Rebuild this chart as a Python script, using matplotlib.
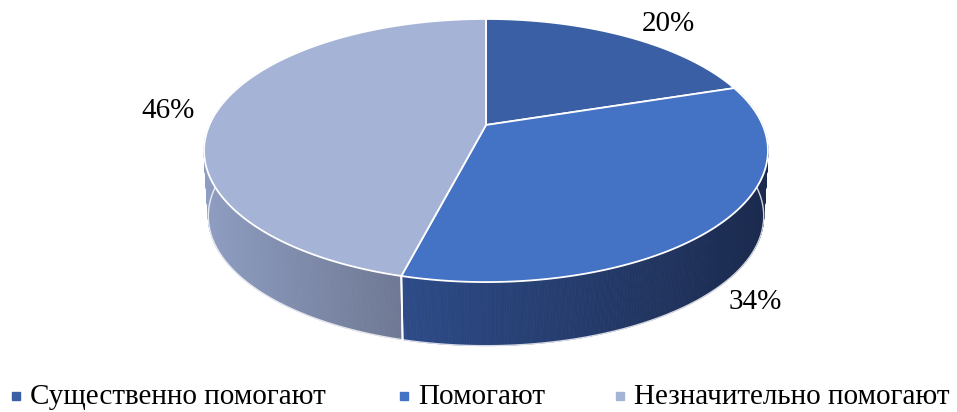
import matplotlib.pyplot as plt
import matplotlib.colors as mcolors
import numpy as np
from matplotlib.patches import Polygon

# Données
categories = ['Существенно помогают', 'Помогают', 'Незначительно помогают']
parts = [20, 34, 46]

couleurs_dessus = ['#3A5FA5', '#4472C4', '#A5B3D7']
couleurs_cote = [('#2A4580', '#1B2A4E'), ('#2D4B88', '#1B2A4E'), ('#8E9DC1', '#6E7893')]

# Géométrie (pixels de la figure)
cx, cy = 486, 125
A, B, k = 276.6, 126.6, 0.194
retrait, epaisseur = 0.985, 66


def projeter(theta, bas=False):
    t = np.radians(theta)
    u, v = np.sin(t), np.cos(t)
    s = 1 + k * v
    if bas:
        return cx + retrait * A * u / s, cy + epaisseur - retrait * B * v / s
    return cx + A * u / s, cy - B * v / s


fig = plt.figure(figsize=(9.57, 4.12), dpi=100)
ax = fig.add_axes([0, 0, 1, 1])
ax.set_xlim(0, 957)
ax.set_ylim(412, 0)
ax.axis('off')

angles = np.concatenate([[0], np.cumsum(parts) / sum(parts) * 360])

# Côtés : bandes fines colorées selon un dégradé horizontal
for i in range(len(parts)):
    a1, a2 = max(angles[i], 60), min(angles[i + 1], 300)
    if a2 <= a1:
        continue
    th = np.linspace(a1, a2, 400)
    avant = (th >= 90) & (th <= 270)
    if not avant.any():
        continue
    xh, yh = projeter(th)
    xb, yb = projeter(th, bas=True)
    xv = np.concatenate([xh[avant], xb[avant]])
    x0, x1 = xv.min(), xv.max()
    c1 = np.array(mcolors.to_rgb(couleurs_cote[i][0]))
    c2 = np.array(mcolors.to_rgb(couleurs_cote[i][1]))
    for j in range(len(th) - 1):
        xm = (xh[j] + xh[j + 1]) / 2
        f = np.clip((xm - x0) / (x1 - x0), 0, 1)
        c = c1 * (1 - f) + c2 * f
        quad = [(xh[j], yh[j]), (xh[j + 1], yh[j + 1]), (xb[j + 1], yb[j + 1]), (xb[j], yb[j])]
        ax.add_patch(Polygon(quad, closed=True, facecolor=c, edgecolor=c, lw=0.6, zorder=2))
    # contour blanc du bas et arêtes verticales
    ax.plot(xb, yb, color='white', lw=1.0, alpha=0.8, zorder=2.5)
    for a in (angles[i], angles[i + 1]):
        if 90 < a < 270:
            xt, yt = projeter(a)
            xbb, ybb = projeter(a, bas=True)
            ax.plot([xt, xbb], [yt, ybb], color='white', lw=1.3, zorder=2.5)

# Dessus
for i in range(len(parts)):
    th = np.linspace(angles[i], angles[i + 1], 200)
    xh, yh = projeter(th)
    pts = np.column_stack([np.concatenate([[cx], xh]), np.concatenate([[cy], yh])])
    ax.add_patch(Polygon(pts, closed=True, facecolor=couleurs_dessus[i],
                         edgecolor='white', lw=1.3, zorder=3))

ax.set_xlim(0, 957)
ax.set_ylim(412, 0)

# Étiquettes
decalages = [(42, -12), (37, 77), (-50, 1)]
for i in range(len(parts)):
    mid = (angles[i] + angles[i + 1]) / 2
    x, y = projeter(mid)
    ax.text(x + decalages[i][0], y + decalages[i][1], f'{parts[i]}%',
            ha='center', va='center', fontsize=21, family='Liberation Serif', zorder=4)

# Légende (placée à la main comme dans Excel)
leg_x = [16, 404, 620]
for i in range(len(categories)):
    ax.plot(leg_x[i], 396, marker='s', markersize=6, color=couleurs_dessus[i], ls='none')
    ax.text(leg_x[i] + 14, 404, categories[i], ha='left', va='baseline',
            fontsize=21, family='Liberation Serif')

plt.savefig('out.png', dpi=100)
plt.close()
